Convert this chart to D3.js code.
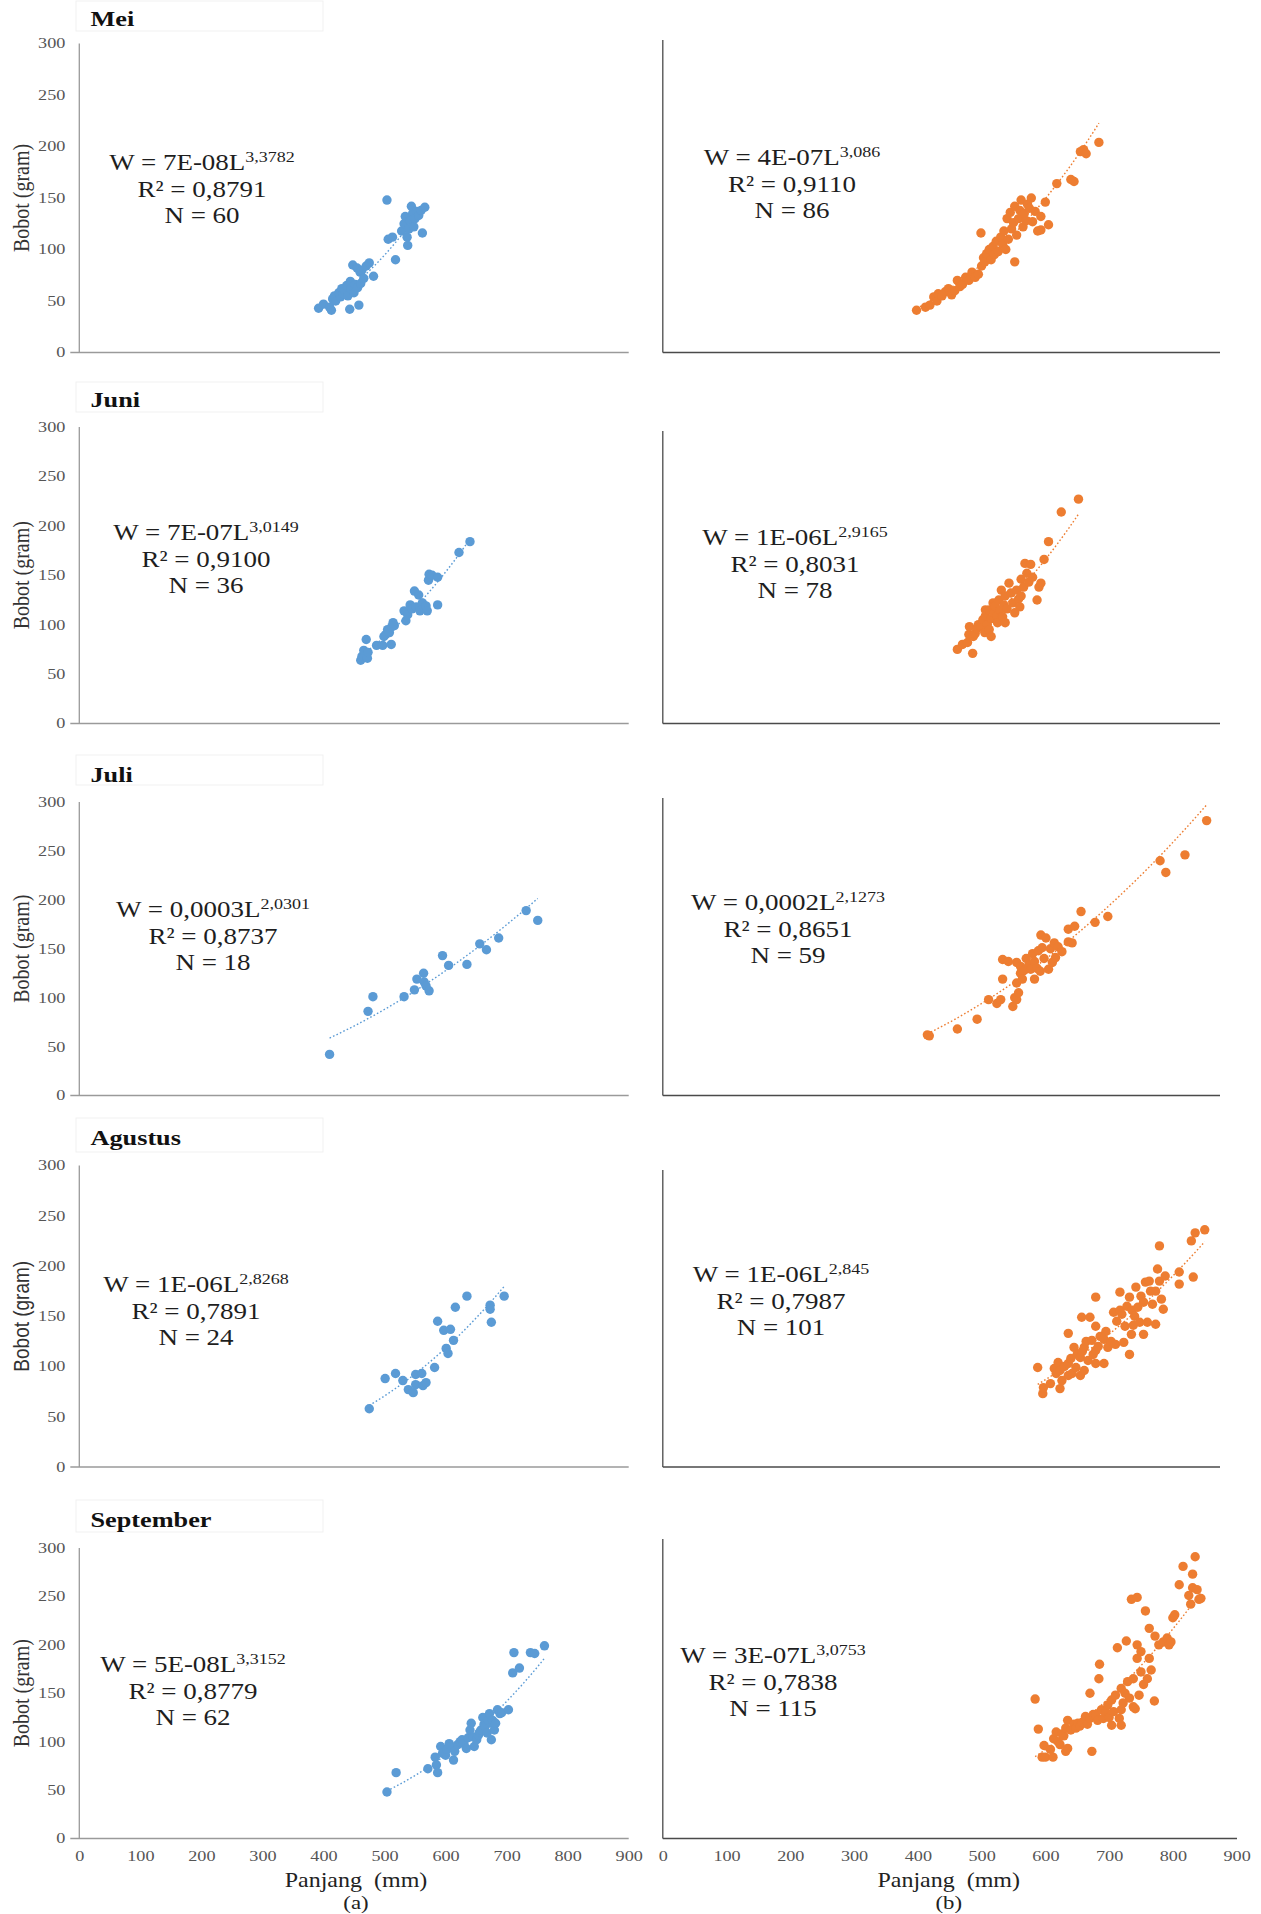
<!DOCTYPE html>
<html><head><meta charset="utf-8">
<script src="https://cdn.jsdelivr.net/npm/d3@7"></script>
<style>body{margin:0;background:#fff}svg{display:block}</style>
</head><body><svg id="c" width="1261" height="1914"></svg>
<script>
// ---------- data ----------
const months = ["Mei","Juni","Juli","Agustus","September"];
const yTicks = [0,50,100,150,200,250,300];
const xTicks = [0,100,200,300,400,500,600,700,800,900];
const xTitle = "Panjang\u00a0 (mm)";
const yTitle = "Bobot (gram)";
const panelTags = ["(a)","(b)"];
// equations: [coefficient, exponent, R2, N]
const eqA = [["7E-08","3,3782","0,8791","60"],["7E-07","3,0149","0,9100","36"],["0,0003","2,0301","0,8737","18"],["1E-06","2,8268","0,7891","24"],["5E-08","3,3152","0,8779","62"]];
const eqB = [["4E-07","3,086","0,9110","86"],["1E-06","2,9165","0,8031","78"],["0,0002","2,1273","0,8651","59"],["1E-06","2,845","0,7987","101"],["3E-07","3,0753","0,7838","115"]];

const meiA = [[392,43],[400,47],[410,44],[413,41],[415,52],[418,55],[420,50],[425,58],[428,54],[430,62],[432,57],[435,60],[438,65],[440,55],[443,42],[444,69],[445,62],[448,85],[450,58],[452,66],[455,82],[456,63],[458,46],[460,78],[461,67],[463,80],[466,72],[470,84],[475,87],[482,74],[504,148],[506,110],[513,112],[518,90],[528,118],[532,125],[534,132],[537,112],[538,104],[540,120],[542,128],[544,142],[546,135],[548,122],[550,130],[553,137],[556,133],[560,138],[562,116],[566,141]];
const meiB = [[398,41],[412,44],[419,46],[425,54],[430,50],[432,57],[438,55],[443,59],[448,62],[453,56],[458,60],[462,70],[466,64],[470,66],[475,73],[480,70],[485,78],[490,73],[495,76],[499,116],[500,84],[503,92],[505,88],[508,96],[512,100],[515,90],[518,103],[520,95],[523,108],[526,98],[530,112],[533,105],[535,118],[538,100],[540,130],[542,110],[545,136],[547,120],[550,126],[552,142],[552,88],[555,114],[558,130],[560,138],[562,148],[565,122],[567,135],[570,128],[572,144],[575,140],[578,150],[580,127],[584,137],[588,118],[593,119],[593,132],[600,146],[605,124],[618,164],[640,168],[645,166],[655,195],[660,197],[664,193],[684,204]];
const juniA = [[461,64],[463,68],[466,74],[470,85],[472,66],[473,72],[487,79],[497,79],[499,88],[502,90],[505,95],[508,92],[511,80],[512,98],[514,102],[516,99],[532,114],[535,104],[538,110],[542,120],[545,116],[549,134],[552,118],[556,130],[558,114],[562,122],[565,117],[568,119],[570,114],[572,145],[573,151],[578,150],[587,120],[587,148],[622,173],[640,184]];
const juniB = [[462,75],[470,80],[478,82],[480,90],[481,98],[486,71],[487,88],[490,91],[493,96],[495,100],[499,98],[502,105],[505,92],[506,109],[506,115],[509,100],[512,95],[512,115],[515,88],[515,106],[518,122],[520,112],[521,119],[524,109],[525,102],[527,125],[529,115],[531,135],[533,108],[535,120],[537,102],[537,129],[540,116],[543,142],[546,132],[549,122],[552,112],[555,135],[558,126],[560,118],[562,129],[562,146],[566,138],[568,162],[571,152],[574,143],[577,161],[580,148],[587,125],[590,138],[593,142],[598,166],[605,184],[625,214],[652,227]];
const juliA = [[410,42],[473,86],[481,101],[532,101],[549,108],[553,119],[564,125],[565,116],[568,112],[573,107],[595,143],[605,133],[635,134],[656,155],[667,149],[687,161],[732,189],[751,179]];
const juliB = [[415,62],[418,61],[462,68],[493,78],[511,98],[524,94],[530,98],[533,119],[533,139],[542,137],[549,91],[552,100],[555,98],[555,115],[555,136],[558,105],[561,125],[561,132],[564,119],[567,128],[570,140],[574,133],[577,129],[580,145],[583,119],[583,137],[587,130],[589,148],[592,127],[593,164],[595,151],[598,140],[601,161],[605,129],[608,150],[611,136],[614,156],[616,141],[620,152],[626,147],[636,157],[636,170],[642,156],[646,173],[656,188],[678,177],[698,183],[780,240],[789,228],[819,246],[853,281]];
const agustusA = [[475,58],[501,88],[518,93],[530,86],[539,77],[547,74],[551,82],[551,92],[561,93],[563,81],[568,84],[582,99],[587,145],[597,136],[601,118],[604,113],[608,137],[613,126],[616,159],[635,170],[673,161],[673,157],[675,144],[696,170]];
const agustusB = [[588,99],[596,73],[597,79],[608,83],[614,98],[617,93],[620,104],[623,78],[623,96],[626,86],[630,100],[636,91],[636,103],[636,133],[640,108],[642,93],[645,119],[648,99],[650,112],[655,91],[655,109],[657,149],[658,115],[661,96],[661,119],[664,125],[667,106],[670,149],[673,126],[675,112],[679,103],[679,116],[679,140],[679,169],[683,120],[686,130],[692,103],[692,127],[695,135],[698,119],[703,125],[707,154],[710,122],[712,145],[717,156],[717,174],[720,152],[723,124],[725,140],[728,160],[732,112],[732,169],[735,132],[736,156],[738,141],[740,150],[742,179],[745,159],[748,144],[750,170],[754,132],[754,164],[757,184],[760,144],[763,185],[765,175],[768,162],[773,142],[773,175],[776,197],[779,185],[779,220],[782,167],[785,157],[788,190],[810,194],[810,182],[829,225],[832,189],[835,233],[850,236]];
const septemberA = [[504,48],[519,68],[571,72],[583,84],[585,76],[587,68],[592,95],[595,88],[600,86],[602,92],[606,98],[609,95],[613,81],[615,90],[620,97],[624,100],[627,102],[630,98],[634,93],[637,104],[640,112],[642,119],[645,105],[647,95],[651,102],[654,107],[656,110],[658,112],[661,125],[663,118],[665,116],[668,109],[670,122],[672,129],[675,102],[675,119],[677,122],[680,112],[682,119],[685,133],[689,129],[692,130],[703,133],[710,171],[712,192],[721,176],[739,192],[746,191],[762,199]];
const septemberB = [[584,144],[589,113],[595,84],[598,96],[600,84],[608,92],[612,84],[613,103],[617,110],[620,100],[623,97],[626,108],[629,106],[632,90],[632,114],[635,93],[635,122],[640,112],[645,118],[648,114],[651,119],[654,116],[658,120],[663,126],[666,118],[670,124],[670,150],[673,90],[675,128],[679,128],[682,122],[684,165],[685,180],[688,133],[691,124],[695,130],[698,138],[700,125],[704,117],[704,143],[707,131],[710,148],[713,197],[716,124],[719,117],[719,133],[719,155],[722,140],[725,150],[727,204],[729,162],[732,145],[735,247],[738,136],[738,165],[741,134],[744,249],[744,200],[744,186],[747,148],[750,193],[750,172],[754,159],[757,235],[760,165],[763,217],[763,186],[766,174],[771,142],[772,209],[778,200],[785,203],[791,207],[794,200],[797,203],[800,228],[803,231],[810,262],[816,281],[825,251],[828,242],[831,259],[831,273],[835,291],[838,257],[841,247],[844,248]];

const seriesA = [meiA, juniA, juliA, agustusA, septemberA];
const seriesB = [meiB, juniB, juliB, agustusB, septemberB];

// ---------- layout ----------
const svg = d3.select("#c");
const serif = "'Liberation Serif','Times New Roman',serif";
const sans = "'Liberation Sans',Arial,sans-serif";
const SX = 1.2;
const blue = "#5b9bd5", orange = "#ed7d31";
const rows = [
  {y300:43.5, y0:352.5, rTop:40,  rEnd:1220, box:[1,31],      title:26,   eA:[202,170],  eB:[792,165]},
  {y300:427,  y0:723.5, rTop:431, rEnd:1220, box:[382,412],   title:406.5,eA:[206,540],  eB:[795,545]},
  {y300:802,  y0:1095.5,rTop:798, rEnd:1220, box:[755,785],   title:781.5,eA:[213,917],  eB:[788,910]},
  {y300:1165.5,y0:1467, rTop:1170,rEnd:1220, box:[1118,1152], title:1145, eA:[196,1292], eB:[781,1282]},
  {y300:1548, y0:1838.5,rTop:1539,rEnd:1237, box:[1500,1532], title:1527, eA:[193,1672], eB:[773,1663]}
];
const xL = d3.scaleLinear().domain([0,900]).range([79.3,628.7]);
const xR = d3.scaleLinear().domain([0,900]).range([662.8,1236.6]);

function powerFit(pts){
  let n=pts.length,sx=0,sy=0,sxx=0,sxy=0;
  pts.forEach(([l,w])=>{const X=Math.log(l),Y=Math.log(w);sx+=X;sy+=Y;sxx+=X*X;sxy+=X*Y;});
  const b=(n*sxy-sx*sy)/(n*sxx-sx*sx); const a=Math.exp((sy-b*sx)/n);
  return {a,b};
}

function drawEq(cx, by, e){
  const g = svg.append("g").attr("transform",`translate(${cx},${by}) scale(${SX},1)`)
    .attr("font-family",serif).attr("fill","#1e1e1e").attr("text-anchor","middle");
  const t1 = g.append("text").attr("font-size",22.5);
  t1.append("tspan").text(`W = ${e[0]}L`);
  t1.append("tspan").attr("font-size",15).attr("dy",-8).text(e[1]);
  g.append("text").attr("font-size",22.5).attr("y",27).text(`R² = ${e[2]}`);
  g.append("text").attr("font-size",22.5).attr("y",53.5).text(`N = ${e[3]}`);
}

function panel(i, side){
  const r = rows[i];
  const x = side===0 ? xL : xR;
  const data = side===0 ? seriesA[i] : seriesB[i];
  const col = side===0 ? blue : orange;
  const y = d3.scaleLinear().domain([0,300]).range([r.y0, r.y300]);
  const g = svg.append("g");
  const axCol = side===0 ? "#9a9a9a" : "#4a4a4a";
  g.append("line").attr("x1",x(0)).attr("x2",x(0)).attr("y1",side===0? r.y300 : r.rTop).attr("y2",r.y0)
    .attr("stroke",axCol).attr("stroke-width",1.3);
  g.append("line").attr("x1",side===0? x(0)-9 : x(0)).attr("x2",side===0? x(900): r.rEnd).attr("y1",r.y0).attr("y2",r.y0)
    .attr("stroke",axCol).attr("stroke-width",1.3);
  if(side===0){
    const ya = g.append("g").attr("transform",`translate(${x(0)},0)`)
      .call(d3.axisLeft(y).tickValues(yTicks).tickSize(0).tickPadding(14).tickFormat(d3.format("d")));
    ya.select(".domain").remove();
    ya.selectAll("text").attr("font-family",serif).attr("font-size",14).attr("fill","#555")
      .attr("x",-14/1.3).attr("transform","scale(1.3,1)");
    svg.append("text").attr("transform",`translate(21,${(r.y0+r.y300)/2}) scale(${SX},1) rotate(-90)`)
      .attr("text-anchor","middle").attr("dominant-baseline","central")
      .attr("font-family", i===3 ? sans : serif).attr("font-size", i===3 ? 19 : 20).attr("fill","#333")
      .text(yTitle);
    svg.append("rect").attr("x",76).attr("y",r.box[0]).attr("width",247).attr("height",r.box[1]-r.box[0])
      .attr("fill","#fff").attr("stroke","#f1f1f1").attr("stroke-width",1);
    svg.append("text").attr("transform",`translate(90.5,${r.title}) scale(1.25,1)`)
      .attr("font-family",serif).attr("font-weight","bold").attr("font-size",21).attr("fill","#111")
      .text(months[i]);
  }
  if(i===4){
    const xa = g.append("g").attr("transform",`translate(0,${r.y0})`)
      .call(d3.axisBottom(x).tickValues(xTicks).tickSize(0).tickPadding(13).tickFormat(d3.format("d")));
    xa.select(".domain").remove();
    xa.selectAll(".tick text").attr("font-family",serif).attr("font-size",14).attr("fill","#555")
      .attr("transform","scale(1.3,1)");
    const cx = (x(0)+x(900))/2 + (side===0 ? 2 : -1);
    svg.append("text").attr("transform",`translate(${cx},1886.5) scale(${SX},1)`).attr("text-anchor","middle")
      .attr("font-family",serif).attr("font-size",20).attr("fill","#222").text(xTitle);
    svg.append("text").attr("transform",`translate(${cx},1909) scale(${SX},1)`).attr("text-anchor","middle")
      .attr("font-family",serif).attr("font-size",19).attr("fill","#222").text(panelTags[side]);
  }
  const f = powerFit(data);
  const lo = d3.min(data,d=>d[0]), hi = d3.max(data,d=>d[0]);
  const pts = d3.range(0,41).map(k=>{const l=lo+(hi-lo)*k/40; return [l, f.a*Math.pow(l,f.b)];});
  g.append("path").attr("d", d3.line().x(d=>x(d[0])).y(d=>y(d[1]))(pts))
    .attr("fill","none").attr("stroke",col).attr("stroke-width",1.4).attr("stroke-dasharray","1.6,2.2");
  g.selectAll("circle").data(data).join("circle")
    .attr("cx",d=>x(d[0])).attr("cy",d=>y(d[1])).attr("r",4.7).attr("fill",col);
  const e = side===0 ? eqA[i] : eqB[i];
  const pos = side===0 ? r.eA : r.eB;
  drawEq(pos[0], pos[1], e);
}

for(let i=0;i<5;i++){ panel(i,0); panel(i,1); }
</script>
</body></html>
